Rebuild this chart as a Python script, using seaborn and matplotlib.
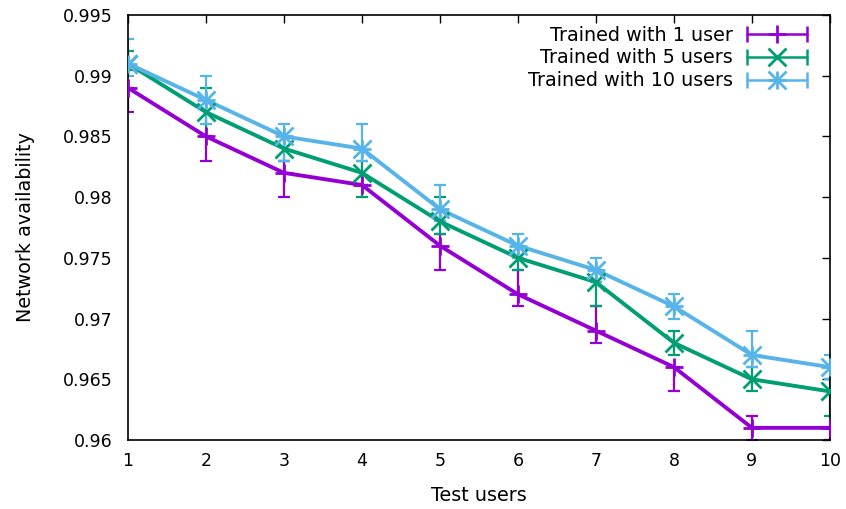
import numpy as np
import pandas as pd
import seaborn as sns
import matplotlib
matplotlib.use('Agg')
import matplotlib.pyplot as plt
from matplotlib.lines import Line2D
from matplotlib.legend_handler import HandlerLine2D
from matplotlib.ticker import FormatStrFormatter

test_users = [1, 2, 3, 4, 5, 6, 7, 8, 9, 10]

one_user = [0.989, 0.985, 0.982, 0.981, 0.976, 0.972, 0.969, 0.966, 0.961, 0.961]
one_user_low = [0.987, 0.983, 0.980, 0.981, 0.974, 0.971, 0.968, 0.964, 0.960, 0.960]
one_user_high = [0.989, 0.985, 0.983, 0.981, 0.977, 0.974, 0.971, 0.966, 0.962, 0.961]

five_users = [0.991, 0.987, 0.984, 0.982, 0.978, 0.975, 0.973, 0.968, 0.965, 0.964]
five_users_low = [0.9905, 0.985, 0.983, 0.980, 0.977, 0.974, 0.971, 0.967, 0.964, 0.962]
five_users_high = [0.992, 0.989, 0.985, 0.983, 0.980, 0.976, 0.974, 0.969, 0.966, 0.965]

ten_users = [0.991, 0.988, 0.985, 0.984, 0.979, 0.976, 0.974, 0.971, 0.967, 0.966]
ten_users_low = [0.990, 0.986, 0.983, 0.983, 0.978, 0.975, 0.973, 0.970, 0.966, 0.965]
ten_users_high = [0.993, 0.990, 0.986, 0.986, 0.981, 0.977, 0.975, 0.972, 0.969, 0.967]

labels = ['Trained with 1 user', 'Trained with 5 users', 'Trained with 10 users']
colors = ['#9400d3', '#009e73', '#56b4e9']

sns.set_style('white')
plt.rcParams['font.family'] = ['DejaVu Sans']
plt.rcParams['text.color'] = 'black'
plt.rcParams['axes.labelcolor'] = 'black'

fig = plt.figure(figsize=(8.46, 5.09), dpi=100)
ax = fig.add_axes([0.1513, 0.1356, 0.981 - 0.1513, 0.9705 - 0.1356])

series = [
    (one_user, one_user_low, one_user_high, ['+']),
    (five_users, five_users_low, five_users_high, ['x']),
    (ten_users, ten_users_low, ten_users_high, ['+', 'x']),
]

handles = []
handler_map = {}
for (vals, low, high, marks), label, c in zip(series, labels, colors):
    df = pd.DataFrame({'x': test_users, 'y': vals})
    vals_a = np.array(vals)
    yerr = [vals_a - np.array(low), np.array(high) - vals_a]
    ax.errorbar(test_users, vals, yerr=yerr, fmt='none', ecolor=c,
                elinewidth=1.6, capsize=4, capthick=1.6, zorder=2)
    sns.lineplot(data=df, x='x', y='y', color=c, lw=2.8, ax=ax, zorder=3)
    for m in marks:
        ax.plot(test_users, vals, ls='none', marker=m, color=c,
                markersize=13, markeredgewidth=2, zorder=4)
    # gnuplot-like legend sample: horizontal line with end caps and marker
    cap = Line2D([], [], color=c, lw=1.8, marker='|', markersize=12, markeredgewidth=1.8)
    handler_map[cap] = HandlerLine2D(numpoints=2)
    mk = [Line2D([], [], color=c, ls='none', marker=m, markersize=13, markeredgewidth=2) for m in marks]
    handles.append(tuple([cap] + mk))

ax.set_xlim(1, 10)
ax.set_ylim(0.96, 0.995)
ax.set_xticks(test_users)
ax.set_yticks(np.arange(0.96, 0.9951, 0.005))
ax.yaxis.set_major_formatter(FormatStrFormatter('%g'))
ax.tick_params(direction='in', length=6, width=1, labelsize=12.5,
               colors='black', top=True, right=True)
ax.tick_params(axis='y', pad=11)
ax.tick_params(axis='x', pad=9)
for s in ax.spines.values():
    s.set_color('black')
    s.set_linewidth(1.2)

ax.set_xlabel('Test users', fontsize=13.8, labelpad=11)
ax.set_ylabel('Network availability', fontsize=13.8, labelpad=20)

ax.legend(handles, labels, handler_map=handler_map, loc='upper right',
          frameon=False, markerfirst=False, fontsize=13.8, handlelength=3.7,
          labelspacing=0.2, borderaxespad=0.15, bbox_to_anchor=(0.99, 1.0),
          handletextpad=0.45)

sns.despine(ax=ax, top=False, right=False)
fig.savefig('out.png', dpi=100)
